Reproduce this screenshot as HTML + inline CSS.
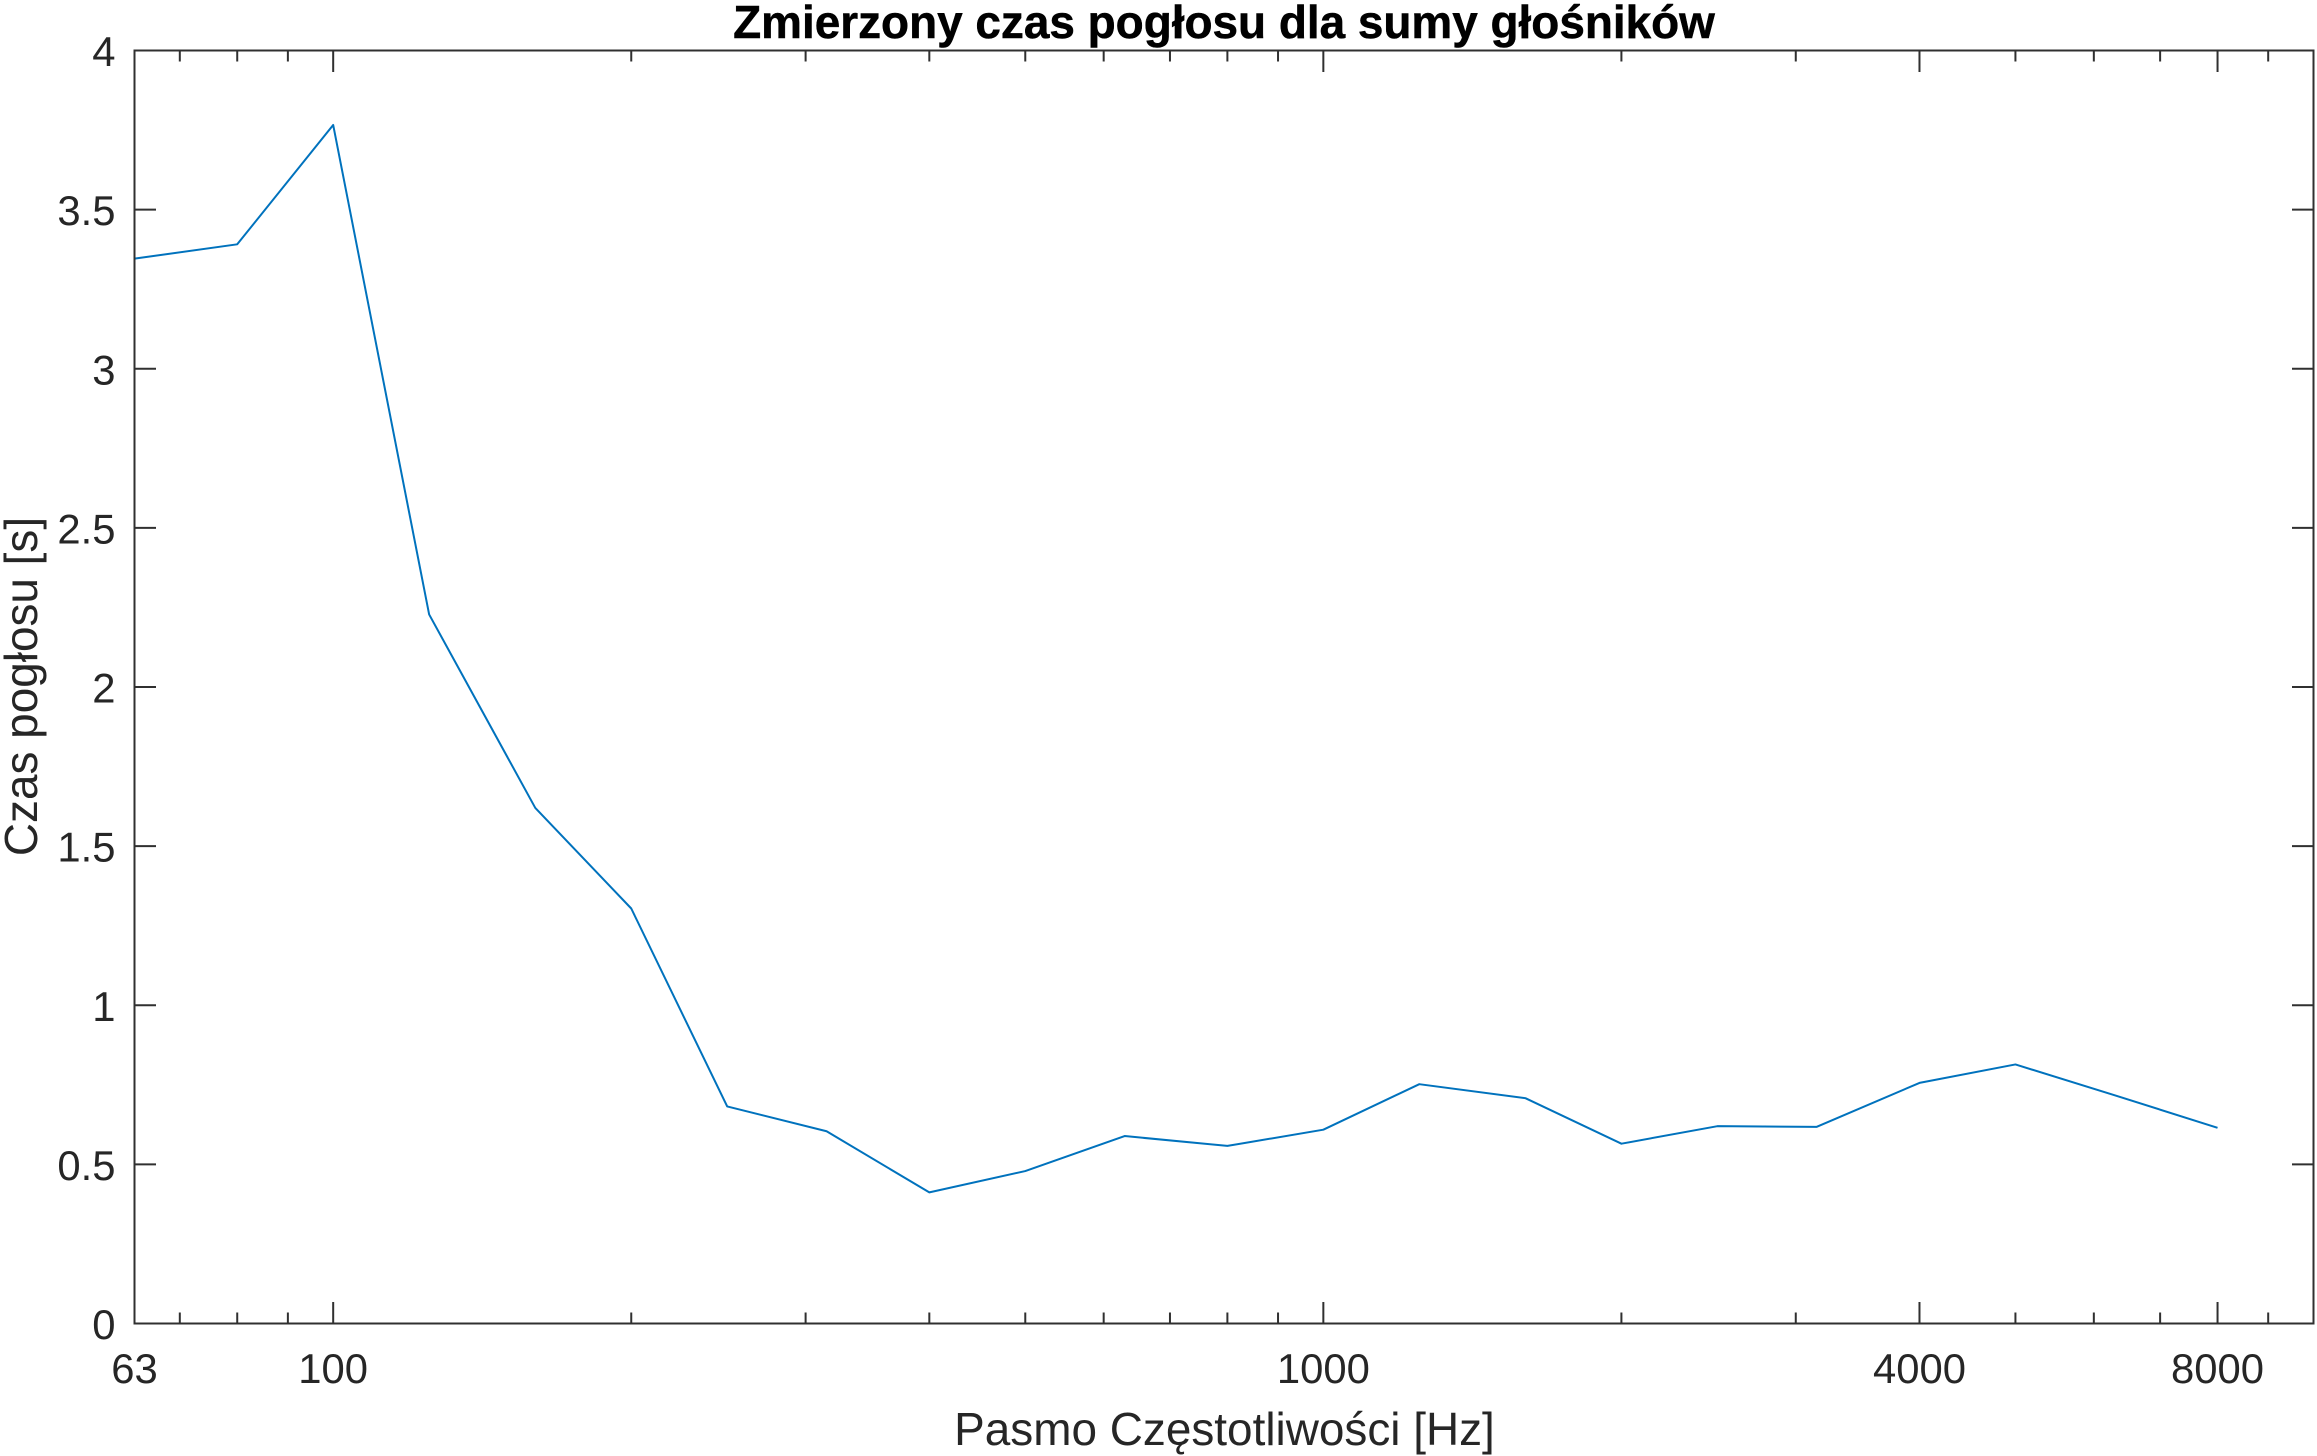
<!DOCTYPE html>
<html lang="pl">
<head>
<meta charset="utf-8">
<title>Zmierzony czas pogłosu dla sumy głośników</title>
<style>
  html, body { margin: 0; padding: 0; background: #fff; }
  svg { display: block; }
  text { font-family: "Liberation Sans", Arial, sans-serif; fill: #262626; }
</style>
</head>
<body>
<svg id="chart" xmlns="http://www.w3.org/2000/svg" width="2317" height="1456" viewBox="0 0 2317 1456">
  <rect x="0" y="0" width="2317" height="1456" fill="#ffffff"/>
  <text x="1224" y="38" font-size="45.9" font-weight="700" text-anchor="middle" style="fill:#000;stroke:#000;stroke-width:0.5">Zmierzony czas pogłosu dla sumy głośników</text>
  <text x="1224.5" y="1445" font-size="45.9" text-anchor="middle">Pasmo Częstotliwości [Hz]</text>
  <text transform="translate(37,686.5) rotate(-90)" font-size="45.9" text-anchor="middle">Czas pogłosu [s]</text>
  <g id="ticks"></g>
  <g id="labels"></g>
  <polyline id="series" fill="none" stroke="#0072BD" stroke-width="2" stroke-linejoin="round"></polyline>
  <rect x="134.5" y="50.5" width="2179" height="1273" fill="none" stroke="#303030" stroke-width="2"/>
</svg>
<script>
const frequencies = [63, 80, 100, 125, 160, 200, 250, 315, 400, 500, 630, 800, 1000, 1250, 1600, 2000, 2500, 3150, 4000, 5000, 6300, 8000];
const reverbTimes = [3.346, 3.391, 3.766, 2.228, 1.620, 1.304, 0.682, 0.604, 0.412, 0.479, 0.589, 0.558, 0.609, 0.752, 0.708, 0.565, 0.620, 0.618, 0.756, 0.814, 0.717, 0.615];
const xMajorTicks = [63, 100, 1000, 4000, 8000];
const xMinorTicks = [70, 80, 90, 200, 300, 400, 500, 600, 700, 800, 900, 2000, 3000, 5000, 6000, 7000, 9000];
const yTicks = [0, 0.5, 1, 1.5, 2, 2.5, 3, 3.5, 4];
const yTickLabels = ['0', '0.5', '1', '1.5', '2', '2.5', '3', '3.5', '4'];
const xDomain = [63, 10000];
const yDomain = [0, 4];

const NS = 'http://www.w3.org/2000/svg';
const plot = { left: 134.5, right: 2313.5, top: 50.5, bottom: 1323.5 };
const majorLen = 21.5;
const minorLen = 11;
const tickFont = 41.8;

function xScale(f) {
  const a = Math.log10(xDomain[0]);
  const b = Math.log10(xDomain[1]);
  return plot.left + (Math.log10(f) - a) / (b - a) * (plot.right - plot.left);
}
function yScale(v) {
  return plot.bottom - (v - yDomain[0]) / (yDomain[1] - yDomain[0]) * (plot.bottom - plot.top);
}
function tickLine(x1, y1, x2, y2) {
  const l = document.createElementNS(NS, 'line');
  l.setAttribute('x1', x1);
  l.setAttribute('y1', y1);
  l.setAttribute('x2', x2);
  l.setAttribute('y2', y2);
  l.setAttribute('stroke', '#303030');
  l.setAttribute('stroke-width', '2');
  
  
  document.getElementById('ticks').appendChild(l);
}
function label(x, y, str, anchor) {
  const t = document.createElementNS(NS, 'text');
  t.setAttribute('x', x);
  t.setAttribute('y', y);
  t.setAttribute('font-size', tickFont);
  t.setAttribute('text-anchor', anchor);
  t.textContent = str;
  
  
  document.getElementById('labels').appendChild(t);
}

xMajorTicks.forEach(function (f) {
  const x = xScale(f);
  tickLine(x, plot.bottom, x, plot.bottom - majorLen);
  tickLine(x, plot.top, x, plot.top + majorLen);
  label(x, 1383, String(f), 'middle');
});
xMinorTicks.forEach(function (f) {
  const x = xScale(f);
  tickLine(x, plot.bottom, x, plot.bottom - minorLen);
  tickLine(x, plot.top, x, plot.top + minorLen);
});
yTicks.forEach(function (v, i) {
  const y = yScale(v);
  tickLine(plot.left, y, plot.left + majorLen, y);
  tickLine(plot.right, y, plot.right - majorLen, y);
  label(115.5, y + 15.5, yTickLabels[i], 'end');
});
document.getElementById('series').setAttribute('points', frequencies.map(function (f, i) {
  return xScale(f).toFixed(2) + ',' + yScale(reverbTimes[i]).toFixed(2);
}).join(' '));
</script>
</body>
</html>
